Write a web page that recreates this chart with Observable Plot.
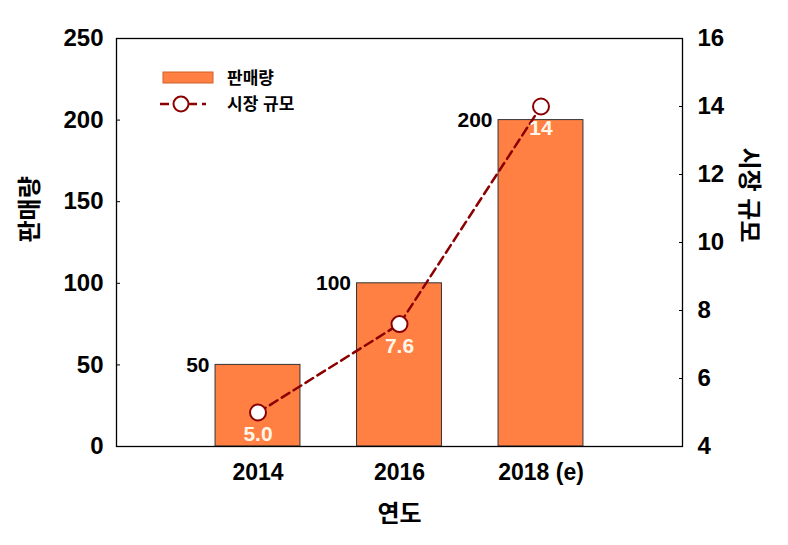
<!DOCTYPE html>
<html>
<head>
<meta charset="utf-8">
<script src="https://cdn.jsdelivr.net/npm/d3@7"></script>
<script src="https://cdn.jsdelivr.net/npm/@observablehq/plot@0.6"></script>
<style>
  html, body { margin: 0; padding: 0; background: #fff; }
  #chart { width: 788px; height: 545px; }
</style>
</head>
<body>
<div id="chart"></div>
<script>
// ---- data ----
const years = ["2014", "2016", "2018 (e)"];
const sales = [50, 100, 200];          // 판매량 (left axis)
const marketSize = [5.0, 7.6, 14];     // 시장 규모 (right axis)
const marketLabels = ["5.0", "7.6", "14"];
const leftTicks = [0, 50, 100, 150, 200, 250];
const rightTicks = [4, 6, 8, 10, 12, 14, 16];

// right axis domain mapped onto left axis domain
const rightMin = 4, rightMax = 16, leftMax = 250;
const toLeft = v => (v - rightMin) / (rightMax - rightMin) * leftMax;
const toRight = v => rightMin + v / leftMax * (rightMax - rightMin);

const data = years.map((year, k) => ({
  i: k + 1, year, sales: sales[k], market: marketSize[k], label: marketLabels[k]
}));

const barColor = "#ff8042";
const lineColor = "#8b0000";
const FONT = "'Liberation Sans', Arial, 'Noto Sans CJK KR', sans-serif";

function legend() {
  const g = d3.create("svg:g").attr("text-anchor", "start");
  g.append("rect").attr("x", 163).attr("y", 72).attr("width", 50).attr("height", 11)
    .attr("fill", barColor).attr("stroke", "#d0602a").attr("stroke-width", 1);
  g.append("text").attr("x", 227).attr("y", 78).attr("dy", "0.35em").attr("text-anchor", "start")
    .attr("font-size", 17).attr("font-weight", "bold").attr("fill", "#000").text("판매량");
  g.append("line").attr("x1", 160).attr("x2", 206).attr("y1", 104).attr("y2", 104)
    .attr("stroke", lineColor).attr("stroke-width", 2.5).attr("stroke-dasharray", "9,5");
  g.append("circle").attr("cx", 181).attr("cy", 104).attr("r", 7.5)
    .attr("fill", "#fff").attr("stroke", lineColor).attr("stroke-width", 2);
  g.append("text").attr("x", 227).attr("y", 104).attr("dy", "0.35em").attr("text-anchor", "start")
    .attr("font-size", 17).attr("font-weight", "bold").attr("fill", "#000").text("시장 규모");
  return g.node();
}

const chart = Plot.plot({
  width: 788,
  height: 545,
  marginTop: 38,
  marginBottom: 99,
  marginLeft: 116,
  marginRight: 106,
  style: { fontFamily: FONT, fontWeight: "bold", background: "#fff", color: "#000" },
  x: { type: "linear", domain: [0, 4] },
  y: { type: "linear", domain: [0, leftMax] },
  marks: [
    Plot.rect(data, {
      x1: d => d.i - 0.3, x2: d => d.i + 0.3, y1: 0, y2: "sales",
      fill: barColor, stroke: "#333", strokeWidth: 1
    }),
    Plot.frame({ stroke: "#000", strokeWidth: 1.3 }),
    Plot.axisY({
      anchor: "left", ticks: leftTicks, tickSize: -4, tickPadding: 17,
      fontSize: 24, fontWeight: "bold", label: null, stroke: "#000"
    }),
    Plot.axisY({
      anchor: "right", ticks: rightTicks.map(toLeft), tickFormat: v => String(Math.round(toRight(v))),
      tickSize: -4, tickPadding: 19, fontSize: 24, fontWeight: "bold", label: null
    }),
    Plot.axisX({
      anchor: "bottom", ticks: [1, 2, 3], tickFormat: v => years[v - 1],
      tickSize: 0, tickPadding: 17, fontSize: 23, fontWeight: "bold", label: null
    }),
    Plot.text(data, {
      x: d => d.i - 0.3, y: "sales", text: d => String(d.sales),
      textAnchor: "end", dx: -6, fontSize: 21, fontWeight: "bold", fill: "#000"
    }),
    Plot.line(data, {
      x: "i", y: d => toLeft(d.market), stroke: lineColor, strokeWidth: 2.5, strokeDasharray: "9,5"
    }),
    Plot.dot(data, {
      x: "i", y: d => toLeft(d.market), r: 8, fill: "#fff", stroke: lineColor, strokeWidth: 2
    }),
    Plot.text(data, {
      x: "i", y: d => toLeft(d.market), text: "label", dy: 22,
      fontSize: 21, fontWeight: "bold", fill: "#fff6ea"
    }),
    Plot.text(["판매량"], {
      frameAnchor: "left", dx: -86, rotate: -90, fontSize: 24, fontWeight: "bold", fill: "#000"
    }),
    Plot.text(["시장 규모"], {
      frameAnchor: "right", dx: 66, rotate: 90, fontSize: 24, fontWeight: "bold", fill: "#000"
    }),
    Plot.text(["연도"], {
      frameAnchor: "bottom", dy: 75, fontSize: 24, fontWeight: "bold", fill: "#000"
    }),
    legend
  ]
});

document.getElementById("chart").appendChild(chart);
</script>
</body>
</html>
